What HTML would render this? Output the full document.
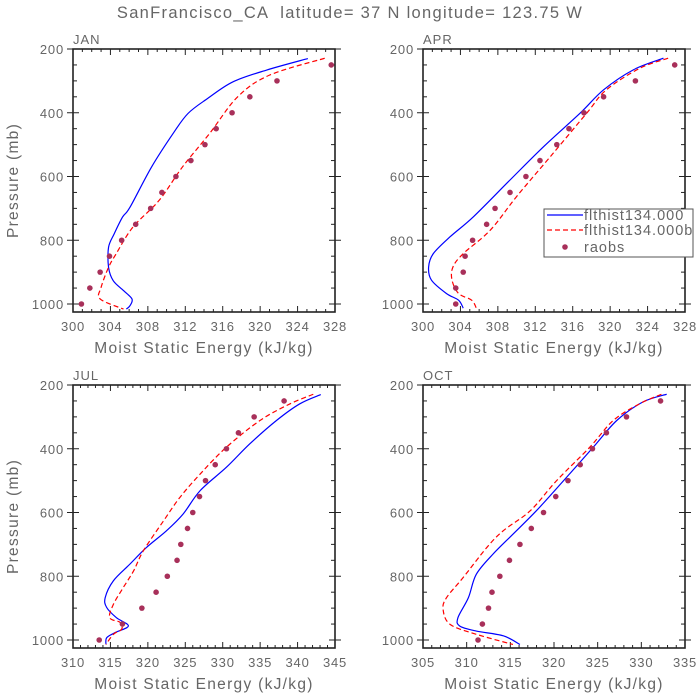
<!DOCTYPE html>
<html><head><meta charset="utf-8"><style>
body{margin:0;background:#fff}
svg{display:block;font-family:"Liberation Sans",sans-serif}
</style></head><body>
<svg id="chart" width="700" height="700" viewBox="0 0 700 700">
<text x="350" y="18" text-anchor="middle" font-size="16.5" letter-spacing="1.3" fill="#666" xml:space="preserve">SanFrancisco_CA  latitude= 37 N longitude= 123.75 W</text>
</svg>
<script>
const levels=[1000,950,900,850,800,750,700,650,600,550,500,450,400,350,300,250];
const janRaobs=[300.9,301.8,302.9,303.9,305.2,306.7,308.3,309.5,311.0,312.6,314.1,315.3,317.0,318.9,321.8,327.6];
const aprRaobs=[303.5,303.5,304.3,304.5,305.3,306.8,307.7,309.3,311.0,312.5,314.3,315.6,317.2,319.3,322.7,326.9];
const julRaobs=[313.5,316.6,319.2,321.1,322.6,323.9,324.4,325.3,326.0,326.9,327.7,329.0,330.5,332.1,334.2,338.2];
const octRaobs=[311.3,311.8,312.5,312.9,313.8,314.9,316.1,317.4,318.8,320.2,321.6,323.0,324.4,326.0,328.3,332.2];

const janBlueP=[230,266,303,355,402,465,570,696,727,780,822,885,927,958,984,1005,1016];
const janBlueX=[325.1,320.7,317.1,314.4,312.3,310.7,308.4,306.1,305.3,304.4,303.8,303.8,304.3,305.4,306.3,306.1,305.7];
const janRedP=[229,282,350,465,570,675,759,843,885,948,984,1016];
const janRedX=[326.9,321.0,317.6,314.6,311.7,309.2,306.4,304.6,303.8,303.0,302.9,305.4];

const aprBlueP=[229,265,328,401,506,611,726,789,842,884,925,967,988,1013];
const aprBlueX=[325.7,322.5,319.3,316.8,312.9,309.3,305.4,302.9,301.1,300.6,300.9,302.5,303.8,304.3];
const aprRedP=[229,260,328,401,538,663,768,842,884,925,967,988,1013];
const aprRedX=[326.2,323.2,319.6,317.5,313.6,310.0,307.2,304.3,303.2,303.1,303.8,305.2,305.7];

const julBlueP=[230,259,311,385,458,531,605,657,710,762,814,867,898,930,956,977,993,1014];
const julBlueX=[343.1,340.3,337.2,333.6,330.5,327.0,324.7,322.5,319.8,317.6,315.4,314.3,314.5,315.8,317.4,315.6,314.5,314.4];
const julRedP=[229,259,311,395,479,552,626,720,783,836,888,930,945,966,982,1014];
const julRedX=[342.1,339.0,335.0,330.5,327.0,324.3,322.1,319.4,318.1,316.7,315.4,314.9,316.3,316.5,315.4,314.4];

const octBlueP=[229,253,311,395,500,594,668,731,794,867,930,956,972,987,1014];
const octBlueX=[332.9,330.2,327.2,324.5,321.1,318.0,315.3,313.0,311.1,310.2,309.0,309.2,311.1,314.2,316.1];
const octRedP=[229,259,311,395,500,594,657,710,804,867,904,951,982,1014];
const octRedX=[332.3,329.8,326.8,324.1,320.3,317.3,314.2,312.3,309.6,307.7,307.3,308.1,311.1,315.3];

const janTicks=[300,304,308,312,316,320,324,328];
const julTicks=[310,315,320,325,330,335,340,345];
const octTicks=[305,310,315,320,325,330,335];
const pTicks=[200,400,600,800,1000];

const NS="http://www.w3.org/2000/svg";
const svg=document.getElementById('chart');
function mk(tag,attrs,parent){const e=document.createElementNS(NS,tag);for(const k in attrs)e.setAttribute(k,attrs[k]);(parent||svg).appendChild(e);return e;}
function smooth(pts){let d=`M${pts[0][0]},${pts[0][1]}`;for(let i=0;i<pts.length-1;i++){const p0=pts[i-1]||pts[i],p1=pts[i],p2=pts[i+1],p3=pts[i+2]||p2;
d+=` C${p1[0]+(p2[0]-p0[0])/6},${p1[1]+(p2[1]-p0[1])/6} ${p2[0]-(p3[0]-p1[0])/6},${p2[1]-(p3[1]-p1[1])/6} ${p2[0]},${p2[1]}`;}return d;}

const panels=[
 {name:'jan',label:'JAN',x0:73,y0:49,xmin:300,xmax:328,ticks:janTicks,minor:1,blueP:janBlueP,blueX:janBlueX,redP:janRedP,redX:janRedX,raobs:janRaobs,ylab:true},
 {name:'apr',label:'APR',x0:423,y0:49,xmin:300,xmax:328,ticks:janTicks,minor:1,blueP:aprBlueP,blueX:aprBlueX,redP:aprRedP,redX:aprRedX,raobs:aprRaobs,ylab:false,legend:true},
 {name:'jul',label:'JUL',x0:73,y0:385,xmin:310,xmax:345,ticks:julTicks,minor:1,blueP:julBlueP,blueX:julBlueX,redP:julRedP,redX:julRedX,raobs:julRaobs,ylab:true},
 {name:'oct',label:'OCT',x0:423,y0:385,xmin:305,xmax:335,ticks:octTicks,minor:1,blueP:octBlueP,blueX:octBlueX,redP:octRedP,redX:octRedX,raobs:octRaobs,ylab:false}
];
const W=262, PX=0.31875, H=263;
panels.forEach(pn=>{
 const g=mk('g',{});
 
 
 const xs=v=>pn.x0+(v-pn.xmin)/(pn.xmax-pn.xmin)*W;
 const ys=p=>pn.y0+(p-200)*PX;
 const x1=pn.x0+W, y1=pn.y0+H;
 const lab=mk('text',{x:pn.x0,y:pn.y0-5,'font-size':13,'letter-spacing':1,fill:'#666'},g);lab.textContent=pn.label;
 
 
 const tk=mk('g',{stroke:'#222','stroke-width':1},g);
 for(let v=pn.xmin;v<=pn.xmax+1e-6;v+=pn.minor){const x=xs(v);const maj=pn.ticks.includes(Math.round(v));const L=maj?6:3;
  mk('line',{x1:x,x2:x,y1:y1,y2:y1-L},tk);mk('line',{x1:x,x2:x,y1:pn.y0,y2:pn.y0+L},tk);}
 for(let p=200;p<=1000;p+=50){const y=ys(p);const maj=p%200===0;const L=maj?6:4;
  mk('line',{x1:pn.x0-(maj?6:0),x2:pn.x0+L,y1:y,y2:y},tk);mk('line',{x1:x1-L,x2:x1+(maj?6:0),y1:y,y2:y},tk);}
 pn.ticks.forEach(v=>{const t=mk('text',{x:xs(v),y:y1+19,'font-size':13,'letter-spacing':0.8,fill:'#666','text-anchor':'middle'},g);t.textContent=v;
  
  });
 pTicks.forEach(p=>{const t=mk('text',{x:pn.x0-9,y:ys(p)+5,'font-size':13,'letter-spacing':0.8,fill:'#666','text-anchor':'end'},g);t.textContent=p;
  
  });
 const xt=mk('text',{x:pn.x0+W/2,y:y1+41,'font-size':15.5,'letter-spacing':1.3,fill:'#666','text-anchor':'middle'},g);xt.textContent='Moist Static Energy (kJ/kg)';
 
 
 if(pn.ylab){const yt=mk('text',{x:0,y:0,'font-size':15.5,'letter-spacing':1.3,fill:'#666','text-anchor':'middle',transform:`translate(18,${pn.y0+H/2}) rotate(-90)`},g);yt.textContent='Pressure (mb)';
  
  }
 const bl=mk('path',{d:smooth(pn.blueP.map((p,i)=>[xs(pn.blueX[i]),ys(p)])),fill:'none',stroke:'#0000ff','stroke-width':1.2},g);
 
 
 const rd=mk('path',{d:smooth(pn.redP.map((p,i)=>[xs(pn.redX[i]),ys(p)])),fill:'none',stroke:'#ff0000','stroke-width':1.2,'stroke-dasharray':'5,3'},g);
 
 
 levels.forEach((p,i)=>{const c=mk('circle',{cx:xs(pn.raobs[i]),cy:ys(p),r:2.8,fill:'#a8305a'},g);
  
  });
 mk('rect',{x:pn.x0,y:pn.y0,width:W,height:H,fill:'none',stroke:'#222','stroke-width':1.6},g);
 if(pn.legend){
  const lg=mk('g',{},g);
  
  
  mk('rect',{x:544,y:209,width:149,height:48,fill:'#fff',stroke:'#555','stroke-width':1},lg);
  mk('line',{x1:547,x2:583,y1:215,y2:215,stroke:'#0000ff','stroke-width':1.2},lg);
  mk('line',{x1:547,x2:583,y1:230,y2:230,stroke:'#ff0000','stroke-width':1.2,'stroke-dasharray':'5,3'},lg);
  mk('circle',{cx:565,cy:247,r:2.8,fill:'#a8305a'},lg);
  [['flthist134.000',220],['flthist134.000b',235],['raobs',252]].forEach(([s,y],i)=>{const t=mk('text',{x:584,y:y,'font-size':14.5,'letter-spacing':1,fill:'#666'},lg);t.textContent=s;
   
   });
 }
});
</script>
</body></html>
